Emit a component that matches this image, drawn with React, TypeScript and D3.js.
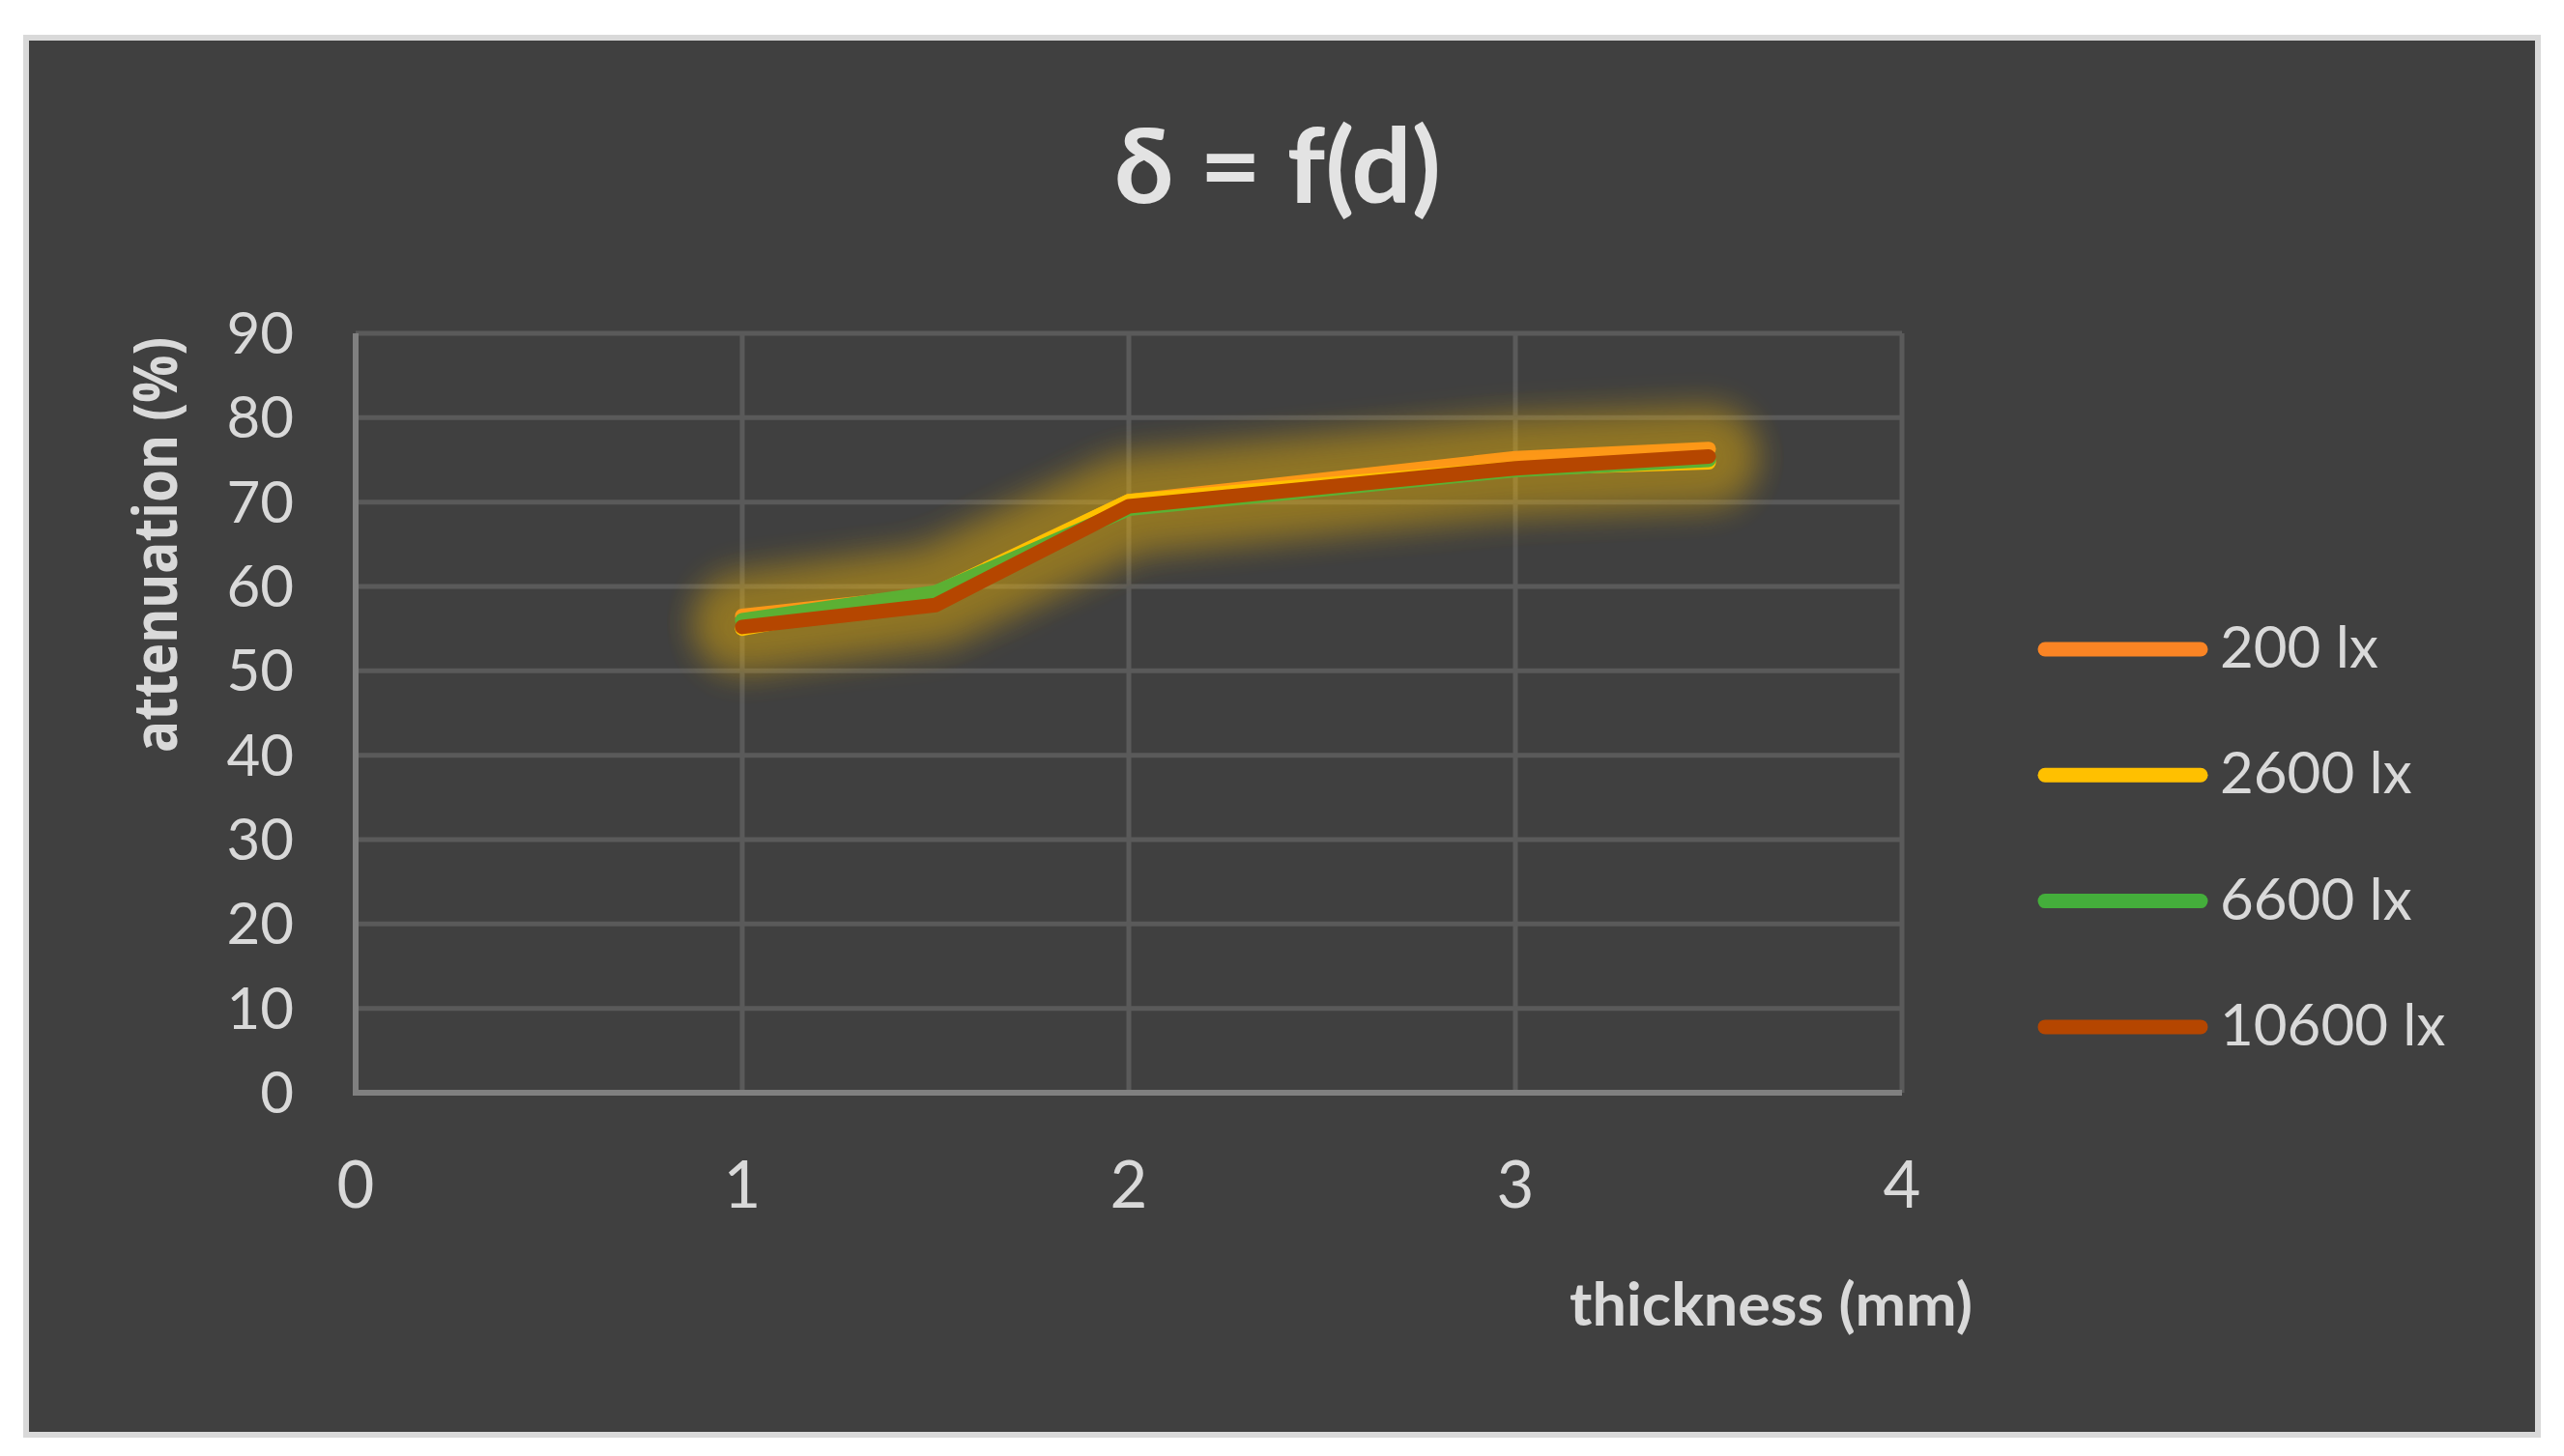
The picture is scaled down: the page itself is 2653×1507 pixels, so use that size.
import React from 'react';
import * as d3 from 'd3';

// thickness in mm (x) and attenuation in % (y)
const thickness = [1, 1.5, 2, 3, 3.5];
const seriesNames = ['200 lx', '2600 lx', '6600 lx', '10600 lx'];
const att200 = [56.5, 59.0, 70.1, 75.2, 76.3];
const att2600 = [55.0, 59.2, 70.1, 74.0, 74.7];
const att6600 = [56.0, 59.3, 69.2, 73.8, 75.0];
const att10600 = [55.2, 57.8, 69.5, 74.0, 75.4];
const xTicks = [0, 1, 2, 3, 4];
const yTicks = [0, 10, 20, 30, 40, 50, 60, 70, 80, 90];

const colors = ['#FA8424', '#FFC000', '#44AE3B', '#B54600'];

const W = 2653;
const H = 1507;

export default function App() {
  const x = d3.scaleLinear().domain([0, 4]).range([368, 1968]);
  const y = d3.scaleLinear().domain([0, 90]).range([1131, 345]);

  const allSeries = [att200, att2600, att6600, att10600];
  const line = d3.line<number>()
    .x((_, i) => x(thickness[i]))
    .y(d => y(d));

  const labelFont = 'Lato, "Open Sans", sans-serif';

  return (
    <div style={{ position: 'absolute', left: 0, top: 0 }}>
      <svg width={W} height={H} viewBox={`0 0 ${W} ${H}`} style={{ display: 'block' }}>
        <defs>
          <filter id="glow" filterUnits="userSpaceOnUse" x={0} y={0} width={W} height={H}>
            <feGaussianBlur stdDeviation="17" />
          </filter>
        </defs>
        <rect x={0} y={0} width={W} height={H} fill="#ffffff" />
        <rect x={27} y={39} width={2599} height={1446} fill="#404040" stroke="#d9d9d9" strokeWidth={6} />

        {/* title */}
        <text x={1322} y={210} textAnchor="middle" fill="#e3e3e3" fontFamily={labelFont}
          fontWeight={700} fontSize={108} textLength={338} lengthAdjust="spacingAndGlyphs">δ = f(d)</text>

        {/* gridlines */}
        {yTicks.filter(t => t > 0).map(t => (
          <line key={'gy' + t} x1={x(0)} x2={x(4)} y1={y(t)} y2={y(t)} stroke="#5a5a5a" strokeWidth={5} />
        ))}
        {xTicks.filter(t => t > 0).map(t => (
          <line key={'gx' + t} x1={x(t)} x2={x(t)} y1={y(90)} y2={y(0)} stroke="#5a5a5a" strokeWidth={5} />
        ))}

        {/* axes */}
        <line x1={x(0)} x2={x(0)} y1={y(90)} y2={y(0) + 3} stroke="#808080" strokeWidth={6} />
        <line x1={x(0) - 3} x2={x(4)} y1={y(0)} y2={y(0)} stroke="#808080" strokeWidth={6} />

        {/* tick labels */}
        {yTicks.map(t => (
          <text key={'ty' + t} x={304} y={y(t) + 21} textAnchor="end" fill="#d9d9d9"
            fontFamily={labelFont} fontSize={60}>{t}</text>
        ))}
        {xTicks.map(t => (
          <text key={'tx' + t} x={x(t)} y={1250} textAnchor="middle" fill="#d9d9d9"
            fontFamily={labelFont} fontSize={67}>{t}</text>
        ))}

        {/* axis titles */}
        <text transform="translate(183,564) rotate(-90)" textAnchor="middle" fill="#d9d9d9"
          fontFamily='"Open Sans", sans-serif' fontWeight={700} fontSize={62}
          textLength={430} lengthAdjust="spacingAndGlyphs">attenuation (%)</text>
        <text x={1624} y={1372} fill="#d9d9d9" fontFamily={labelFont} fontWeight={700}
          fontSize={62} textLength={417} lengthAdjust="spacingAndGlyphs">thickness (mm)</text>

        {/* series: each with its own soft gold glow underneath */}
        {allSeries.map((vals, i) => (
          <g key={'s' + i}>
            <g opacity={0.125} filter="url(#glow)">
              <path d={line(vals) || ''} fill="none" stroke="#FFC000" strokeWidth={100}
                strokeLinecap="round" strokeLinejoin="round" />
            </g>
            <path d={line(vals) || ''} fill="none" stroke={colors[i]} strokeWidth={15}
              strokeLinecap="round" strokeLinejoin="round" />
          </g>
        ))}

        {/* legend */}
        {seriesNames.map((name, i) => {
          const cy = 672 + i * 130.3;
          return (
            <g key={'lg' + i}>
              <line x1={2116} x2={2277} y1={cy} y2={cy} stroke={colors[i]} strokeWidth={15} strokeLinecap="round" />
              <text x={2297} y={cy + 19} fill="#d9d9d9" fontFamily={labelFont} fontSize={60}>{name}</text>
            </g>
          );
        })}
      </svg>
    </div>
  );
}
